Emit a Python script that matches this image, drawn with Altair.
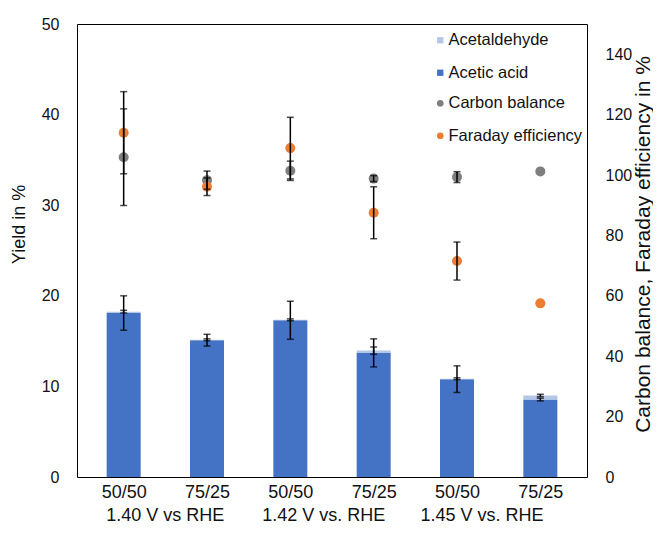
import altair as alt
import pandas as pd

# ---------------- data ----------------
positions = [0, 1, 2, 3, 4, 5]
ratio_labels = ["50/50", "75/25", "50/50", "75/25", "50/50", "75/25"]
voltage_labels = ["1.40 V vs RHE", "1.42 V vs. RHE", "1.45 V vs. RHE"]
voltage_positions = [0.5, 2.4, 4.3]

acetic_acid = [18.1, 15.1, 17.3, 13.7, 10.8, 8.55]
acetic_acid_err = [1.9, 0.65, 2.1, 1.55, 1.47, 0.15]
acetaldehyde = [0.15, 0.05, 0.05, 0.25, 0.05, 0.45]
acetaldehyde_err = [0.15, 0.1, 0.1, 0.4, 0.1, 0.13]

carbon_balance = [105.9, 98.3, 101.4, 98.8, 99.3, 101.2]
carbon_balance_err = [16.0, 3.0, 3.2, 1.0, 1.8, 0.0]
faraday_eff = [114.0, 96.1, 108.9, 87.5, 71.5, 57.5]
faraday_eff_err = [13.6, 2.9, 10.2, 8.6, 6.3, 0.0]

left_ticks = [0, 10, 20, 30, 40, 50]
right_ticks = [0, 20, 40, 60, 80, 100, 120, 140]

FONT = "Liberation Sans"
TXT = "#111111"
C_ALD = "#B4C7E7"
C_AA = "#4472C4"
C_CB = "#7F7F7F"
C_FE = "#ED7D31"

# ---------------- tables ----------------
bar_rows = []
err_left = []
for i, p in enumerate(positions):
    bar_rows.append({"x": p, "series": "Acetic acid", "y0": 0.0, "y1": acetic_acid[i]})
    bar_rows.append({"x": p, "series": "Acetaldehyde", "y0": acetic_acid[i],
                     "y1": acetic_acid[i] + acetaldehyde[i]})
    err_left.append({"x": p, "lo": acetic_acid[i] - acetic_acid_err[i],
                     "hi": acetic_acid[i] + acetic_acid_err[i]})
    top = acetic_acid[i] + acetaldehyde[i]
    err_left.append({"x": p, "lo": top - acetaldehyde_err[i], "hi": top + acetaldehyde_err[i]})
bars_df = pd.DataFrame(bar_rows)
err_left_df = pd.DataFrame(err_left)

pt_rows = []
err_right = []
for i, p in enumerate(positions):
    pt_rows.append({"x": p, "series": "Carbon balance", "v": carbon_balance[i]})
    pt_rows.append({"x": p, "series": "Faraday efficiency", "v": faraday_eff[i]})
    for val, e in ((carbon_balance[i], carbon_balance_err[i]), (faraday_eff[i], faraday_eff_err[i])):
        if e > 0:
            err_right.append({"x": p, "lo": val - e, "hi": val + e})
pts_df = pd.DataFrame(pt_rows)
err_right_df = pd.DataFrame(err_right)

volt_df = pd.DataFrame({"x": voltage_positions, "label": voltage_labels})

# ---------------- encodings ----------------
label_expr = "[" + ",".join("'%s'" % s for s in ratio_labels) + "][datum.value]"
x_axis = alt.Axis(values=positions, labelExpr=label_expr, ticks=False, domain=False,
                  grid=False, title=None, labelFontSize=18, labelPadding=6,
                  labelColor=TXT, labelFont=FONT)


def xenc():
    return alt.X("x:Q", scale=alt.Scale(domain=[-0.5, 5.5], nice=False, zero=False), axis=x_axis)


left_axis = alt.Axis(values=left_ticks, grid=False, ticks=False, domain=False,
                     labelFontSize=16, labelPadding=18, labelColor=TXT, labelFont=FONT,
                     title="Yield in %", titleFontSize=18, titleFontWeight="normal",
                     titleColor=TXT, titleFont=FONT, titleAngle=270, titleX=-58,
                     titleY=200, titleBaseline="middle", titleAlign="center")
left_scale = alt.Scale(domain=[0, 50], nice=False)

right_axis = alt.Axis(orient="right", values=right_ticks, grid=False, ticks=False,
                      domain=False, labelFontSize=16, labelPadding=18, labelColor=TXT,
                      labelFont=FONT, title="Carbon balance, Faraday efficiency in %",
                      titleFontSize=21, titleFontWeight="normal", titleColor=TXT,
                      titleFont=FONT, titleAngle=270, titleX=56, titleY=220,
                      titleBaseline="middle", titleAlign="center")
right_scale = alt.Scale(domain=[0, 150], nice=False)

legend_common = dict(orient="none", title=None, labelFontSize=16.5, labelFont=FONT,
                     labelColor=TXT, padding=0, rowPadding=15.5, labelOffset=0,
                     symbolOffset=4, legendX=351)

bars = alt.Chart(bars_df).mark_bar(size=34).encode(
    x=xenc(),
    y=alt.Y("y1:Q", scale=left_scale, axis=left_axis),
    y2="y0:Q",
    color=alt.Color("series:N",
                    scale=alt.Scale(domain=["Acetaldehyde", "Acetic acid"], range=[C_ALD, C_AA]),
                    legend=alt.Legend(symbolType="square", symbolSize=40, legendY=8,
                                      **legend_common)),
)
bar_rule = alt.Chart(err_left_df).mark_rule(color="black", strokeWidth=1.5).encode(
    x=xenc(), y=alt.Y("lo:Q", scale=left_scale, axis=left_axis), y2="hi:Q")
bar_cap_lo = alt.Chart(err_left_df).mark_tick(orient="horizontal", size=7, thickness=1.5,
                                              color="black").encode(
    x=xenc(), y=alt.Y("lo:Q", scale=left_scale, axis=left_axis))
bar_cap_hi = alt.Chart(err_left_df).mark_tick(orient="horizontal", size=7, thickness=1.5,
                                              color="black").encode(
    x=xenc(), y=alt.Y("hi:Q", scale=left_scale, axis=left_axis))
volt_text = alt.Chart(volt_df).mark_text(fontSize=18, font=FONT, color=TXT,
                                         baseline="alphabetic", align="center").encode(
    x=xenc(), y=alt.value(497), text="label:N")

left = alt.layer(bars, bar_rule, bar_cap_lo, bar_cap_hi, volt_text)

points = alt.Chart(pts_df).mark_circle(size=100, opacity=1).encode(
    x=xenc(),
    y=alt.Y("v:Q", scale=right_scale, axis=right_axis),
    color=alt.Color("series:N",
                    scale=alt.Scale(domain=["Carbon balance", "Faraday efficiency"],
                                    range=[C_CB, C_FE]),
                    legend=alt.Legend(symbolType="circle", symbolSize=45, legendY=71,
                                      **legend_common)),
)
pt_rule = alt.Chart(err_right_df).mark_rule(color="black", strokeWidth=1.5).encode(
    x=xenc(), y=alt.Y("lo:Q", scale=right_scale, axis=right_axis), y2="hi:Q")
pt_cap_lo = alt.Chart(err_right_df).mark_tick(orient="horizontal", size=7, thickness=1.5,
                                              color="black").encode(
    x=xenc(), y=alt.Y("lo:Q", scale=right_scale, axis=right_axis))
pt_cap_hi = alt.Chart(err_right_df).mark_tick(orient="horizontal", size=7, thickness=1.5,
                                              color="black").encode(
    x=xenc(), y=alt.Y("hi:Q", scale=right_scale, axis=right_axis))

right = alt.layer(points, pt_rule, pt_cap_lo, pt_cap_hi)

chart = alt.layer(left, right).resolve_scale(
    y="independent", color="independent"
).properties(
    width=510, height=453,
    padding={"left": 69, "top": 16, "right": 66, "bottom": 48},
    autosize=alt.AutoSizeParams(type="none"),
    background="white",
).configure(font=FONT).configure_view(stroke="#000000", strokeWidth=1)

chart.save("out.html", embed_options={"renderer": "svg", "actions": False})
